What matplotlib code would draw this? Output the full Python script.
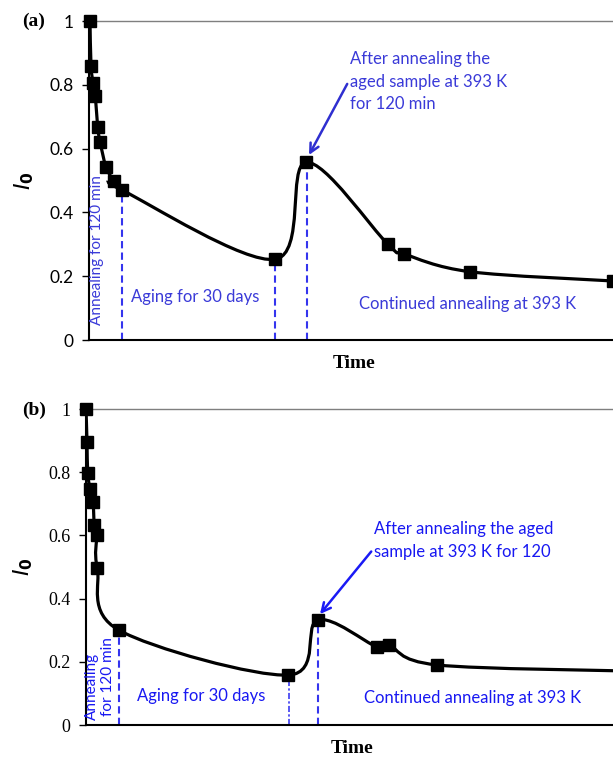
import numpy as np
import matplotlib
matplotlib.use("Agg")
import matplotlib.pyplot as plt
from matplotlib.path import Path
from matplotlib.patches import PathPatch

# panel (a) data, x in arbitrary time units
xa = [1, 2, 4, 6.3, 8.7, 11, 17, 25, 33, 186, 217, 299, 315, 381, 524]
ya = [1.0, 0.86, 0.807, 0.765, 0.667, 0.622, 0.543, 0.498, 0.47, 0.253, 0.557, 0.30, 0.27, 0.214, 0.185]

# panel (b) data
xb = [0, 1, 1.7, 4, 7, 8.3, 10.7, 11.3, 33, 202.3, 231.7, 291, 303.3, 351.3, 554]
yb = [1.0, 0.897, 0.799, 0.746, 0.707, 0.633, 0.600, 0.497, 0.300, 0.158, 0.332, 0.247, 0.252, 0.19, 0.17]

yticks = [0, 0.2, 0.4, 0.6, 0.8, 1]
ytick_labels = ['0', '0.2', '0.4', '0.6', '0.8', '1']

# dashed markers: (x, top)
va_lines = [(33, 0.47), (186, 0.253), (218, 0.55)]
vb_lines = [(33, 0.30), (203, 0.158), (232, 0.332)]


def smooth_path(x, y, yscale):
    '''Excel-like smoothed line: cubic Bezier with Catmull-Rom control points'''
    P = np.column_stack([np.asarray(x, float), np.asarray(y, float) * yscale])
    n = len(P)
    verts = [P[0]]
    codes = [Path.MOVETO]
    for i in range(n - 1):
        p0 = P[max(i - 1, 0)]
        p1 = P[i]
        p2 = P[i + 1]
        p3 = P[min(i + 2, n - 1)]
        c1 = p1 + (p2 - p0) / 6.0
        c2 = p2 - (p3 - p1) / 6.0
        verts += [c1, c2, p2]
        codes += [Path.CURVE4] * 3
    verts = np.array(verts)
    verts[:, 1] /= yscale
    return Path(verts, codes)


def setup_axes(ax, tick_font, tick_size, xmax):
    ax.set_xlim(0, xmax)
    ax.set_ylim(0, 1)
    ax.set_yticks(yticks)
    ax.set_yticklabels(ytick_labels, family=tick_font, fontsize=tick_size)
    ax.set_xticks([])
    ax.tick_params(axis='y', direction='out', length=5, width=1, pad=6)
    ax.spines['right'].set_visible(False)
    ax.spines['top'].set_color('#7f7f7f')
    ax.spines['top'].set_linewidth(1)
    ax.spines['left'].set_linewidth(1.5)
    ax.spines['bottom'].set_linewidth(1.5)
    ax.set_xlabel('Time', family='Liberation Serif', fontweight='bold', fontsize=14, labelpad=11)


fig = plt.figure(figsize=(6.13, 7.6), dpi=100)

# ---------------- panel (a)
axa = fig.add_axes([89 / 613, 1 - 340 / 760, 530 / 613, 319 / 760])
setup_axes(axa, 'Lato', 12.5, 530)
axa.set_ylabel(r'$\mathit{I}_{\mathbf{0}}$', fontsize=16, labelpad=10)
ca = '#3a3ad8'
for x, top in va_lines:
    axa.plot([x, x], [0, top], color='#3535ee', lw=1.5, ls=(0, (3.5, 2)), zorder=2)
axa.add_patch(PathPatch(smooth_path(xa, ya, 319), fill=False, lw=2.3, ec='black', zorder=3, clip_on=True))
axa.plot(xa, ya, 's', color='black', ms=8.5, zorder=4, clip_on=False)
axa.text(8, 0.047, 'Annealing for 120 min', rotation=90, ha='center', va='bottom',
         family='Lato', fontsize=11, color=ca)
axa.text(42, 0.135, 'Aging for 30 days', ha='left', va='center', family='Lato', fontsize=12, color=ca)
axa.text(270, 0.113, 'Continued annealing at 393 K', ha='left', va='center', family='Lato', fontsize=12, color=ca)
axa.annotate('After annealing the\naged sample at 393 K\nfor 120 min', xy=(220, 0.58), xytext=(261, 0.905),
             ha='left', va='top', family='Lato', fontsize=12, color=ca, linespacing=1.5,
             arrowprops=dict(arrowstyle='->', color='#2f2fd0', lw=1.8, mutation_scale=16,
                             shrinkA=0, shrinkB=0, relpos=(0, 0.55)))
fig.text(22 / 613, 1 - 21 / 760, '(a)', family='Liberation Serif', fontweight='bold', fontsize=14,
         ha='left', va='center')

# ---------------- panel (b)
axb = fig.add_axes([86 / 613, 1 - 725 / 760, 533 / 613, 316 / 760])
setup_axes(axb, 'Liberation Serif', 13, 533)
axb.set_ylabel(r'$\mathit{I}_{\mathbf{0}}$', fontsize=16, labelpad=10)
cb = '#1818f2'
for k, (x, top) in enumerate(vb_lines):
    if k == 1:
        axb.plot([x, x], [0, top], color='#2a2af0', lw=1.1, ls=(0, (4, 1.5, 1.5, 1.5)), zorder=2)
    else:
        axb.plot([x, x], [0, top], color='#3535ee', lw=1.5, ls=(0, (3.5, 2)), zorder=2)
axb.add_patch(PathPatch(smooth_path(xb, yb, 316), fill=False, lw=2.3, ec='black', zorder=3, clip_on=True))
axb.plot(xb, yb, 's', color='black', ms=8.5, zorder=4, clip_on=False)
axb.text(5.7, 0.015, 'Annealing', rotation=90, ha='center', va='bottom', family='Lato', fontsize=11, color=cb)
axb.text(22.3, 0.03, 'for 120 min', rotation=90, ha='center', va='bottom', family='Lato', fontsize=11, color=cb)
axb.text(51, 0.092, 'Aging for 30 days', ha='left', va='center', family='Lato', fontsize=12, color=cb)
axb.text(278, 0.085, 'Continued annealing at 393 K', ha='left', va='center', family='Lato', fontsize=12, color=cb)
axb.annotate('After annealing the aged\nsample at 393 K for 120', xy=(234, 0.351), xytext=(288, 0.645),
             ha='left', va='top', family='Lato', fontsize=12, color=cb, linespacing=1.5,
             arrowprops=dict(arrowstyle='->', color='#1a1af5', lw=1.8, mutation_scale=16,
                             shrinkA=0, shrinkB=0, relpos=(0, 0.3)))
fig.text(22 / 613, 1 - 410 / 760, '(b)', family='Liberation Serif', fontweight='bold', fontsize=14,
         ha='left', va='center')

fig.savefig('out.png', dpi=100)
